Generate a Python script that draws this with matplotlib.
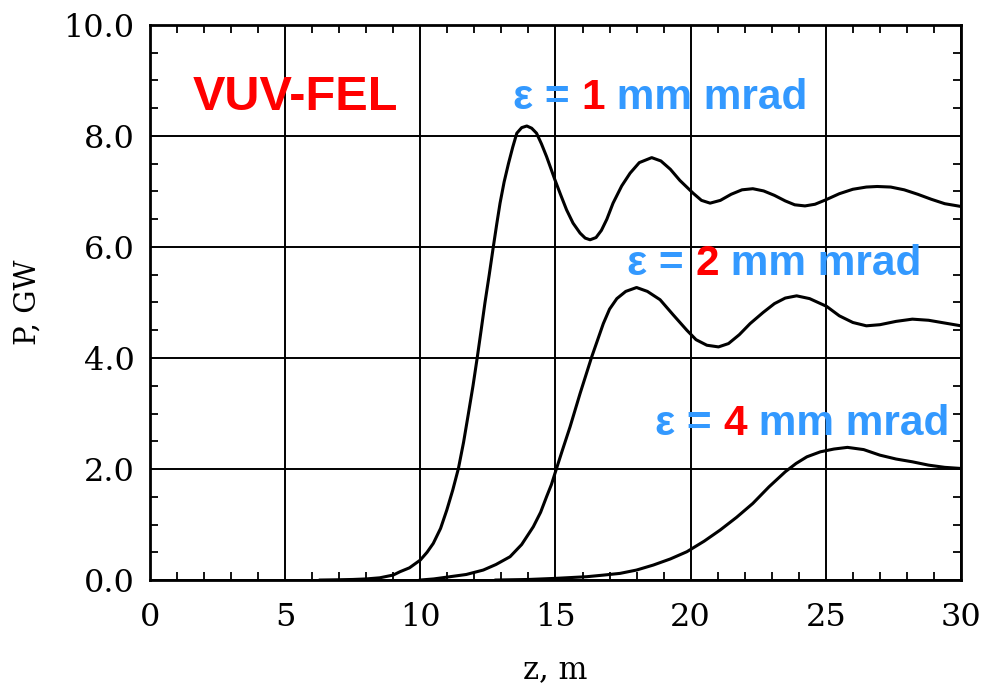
import matplotlib as mpl
mpl.use('Agg')
import matplotlib.pyplot as plt
from matplotlib.ticker import MultipleLocator, FormatStrFormatter

# values, z in m and P in GW
z_e1 = [6.3, 7.0, 7.5, 8.0, 8.5, 9.0, 9.25, 9.6, 10.0, 10.25, 10.48, 10.75, 10.98,
        11.2, 11.41, 11.6, 11.78, 11.95, 12.11, 12.25, 12.39, 12.55, 12.7, 12.83,
        12.95, 13.1, 13.26, 13.42, 13.57, 13.75, 13.94, 14.12, 14.3, 14.48, 14.67,
        14.98, 15.2, 15.41, 15.65, 15.91, 16.1, 16.28, 16.5, 16.7, 16.9, 17.13,
        17.45, 17.76, 18.1, 18.56, 18.9, 19.25, 19.6, 20.09, 20.4, 20.72, 21.1,
        21.5, 21.9, 22.3, 22.7, 23.1, 23.5, 23.85, 24.23, 24.6, 25.0, 25.5, 26.0,
        26.5, 26.9, 27.4, 27.9, 28.4, 28.9, 29.4, 30.0]
p_e1 = [0.0, 0.005, 0.01, 0.02, 0.04, 0.09, 0.15, 0.22, 0.36, 0.5, 0.66, 0.93, 1.26,
        1.62, 2.01, 2.48, 3.0, 3.5, 4.02, 4.5, 4.99, 5.5, 6.0, 6.42,
        6.79, 7.17, 7.5, 7.8, 8.05, 8.15, 8.18, 8.14, 8.05, 7.86, 7.63,
        7.21, 6.93, 6.67, 6.43, 6.25, 6.16, 6.13, 6.17, 6.3, 6.5, 6.79,
        7.1, 7.33, 7.52, 7.61, 7.55, 7.4, 7.2, 6.97, 6.84, 6.79, 6.84,
        6.95, 7.03, 7.05, 7.01, 6.93, 6.83, 6.76, 6.74, 6.77, 6.85, 6.96, 7.04,
        7.08, 7.09, 7.08, 7.03, 6.95, 6.86, 6.78, 6.73]

z_e2 = [10.0, 10.5, 11.1, 11.7, 12.33, 12.8, 13.32, 13.75, 14.18, 14.45, 14.67,
        14.85, 15.0, 15.25, 15.54, 15.91, 16.34, 16.77, 17.0, 17.27, 17.6, 18.0,
        18.4, 18.87, 19.35, 19.86, 20.2, 20.6, 21.03, 21.4, 21.8, 22.2, 22.68,
        23.1, 23.5, 23.92, 24.4, 25.03, 25.5, 26.0, 26.5, 27.0, 27.6, 28.2, 28.8,
        29.4, 30.0]
p_e2 = [0.0, 0.02, 0.06, 0.1, 0.18, 0.28, 0.42, 0.64, 0.96, 1.22, 1.5,
        1.72, 1.95, 2.33, 2.76, 3.36, 4.02, 4.62, 4.88, 5.07, 5.2, 5.27,
        5.2, 5.05, 4.78, 4.5, 4.33, 4.23, 4.2, 4.26, 4.42, 4.62, 4.82,
        4.98, 5.08, 5.12, 5.07, 4.93, 4.76, 4.64, 4.58, 4.6, 4.66, 4.7, 4.68,
        4.63, 4.58]

z_e4 = [12.8, 14.0, 15.0, 16.16, 16.8, 17.39, 18.0, 18.62, 19.25, 19.86, 20.5,
        21.09, 21.7, 22.3, 22.9, 23.5, 23.9, 24.3, 24.8, 25.3, 25.8, 26.4, 27.0,
        27.6, 28.2, 28.8, 29.4, 30.0]
p_e4 = [0.0, 0.01, 0.03, 0.06, 0.09, 0.12, 0.18, 0.27, 0.38, 0.51, 0.7,
        0.9, 1.13, 1.38, 1.68, 1.95, 2.1, 2.22, 2.31, 2.36, 2.39, 2.35, 2.25,
        2.18, 2.13, 2.07, 2.03, 2.01]

labels = [("1", 13.43, 8.49), ("2", 17.65, 5.50), ("4", 18.68, 2.61)]

blue = '#3399ff'
red = '#ff0000'

fig = plt.figure(figsize=(9.82, 6.84), dpi=100)
ax = fig.add_axes([0.1527, 0.152, 0.8259, 0.8115])

for z, p in [(z_e1, p_e1), (z_e2, p_e2), (z_e4, p_e4)]:
    ax.plot(z, p, color='black', lw=2.2, zorder=3, solid_joinstyle='round')

ax.set_xlim(0, 30)
ax.set_ylim(0, 10)
ax.xaxis.set_major_locator(MultipleLocator(5))
ax.xaxis.set_minor_locator(MultipleLocator(1))
ax.yaxis.set_major_locator(MultipleLocator(2))
ax.yaxis.set_minor_locator(MultipleLocator(0.5))
ax.yaxis.set_major_formatter(FormatStrFormatter('%.1f'))
ax.grid(True, which='major', color='black', lw=1.4)
ax.tick_params(which='both', direction='in', top=True, right=True, labelsize=23)
ax.tick_params(axis='x', which='major', length=0, pad=16)
ax.tick_params(axis='y', which='major', length=0, pad=11)
ax.tick_params(which='minor', length=6, width=1.3)
for lab in ax.get_xticklabels() + ax.get_yticklabels():
    lab.set_family('DejaVu Serif')
for sp in ax.spines.values():
    sp.set_linewidth(2.0)

ax.set_xlabel('z, m', family='DejaVu Serif', fontsize=22, labelpad=15)
ax.set_ylabel('P, GW', family='DejaVu Serif', fontsize=21, labelpad=16)

ax.text(1.59, 8.47, 'VUV-FEL', color=red, fontsize=35, fontweight='bold',
        family='Liberation Sans', va='baseline')

# multi-coloured emittance labels, piece by piece
fig.canvas.draw()
renderer = fig.canvas.get_renderer()
ax_w = ax.get_window_extent().width
for num, x0, y0 in labels:
    x = x0
    for s, c in [("\u03b5 = ", blue), (num, red), (" mm mrad", blue)]:
        t = ax.text(x, y0, s, color=c, fontsize=30.5, fontweight='bold',
                    family='Liberation Sans', va='baseline', zorder=4)
        w = t.get_window_extent(renderer).width
        x += w / ax_w * 30

fig.savefig('out.png', dpi=100)
